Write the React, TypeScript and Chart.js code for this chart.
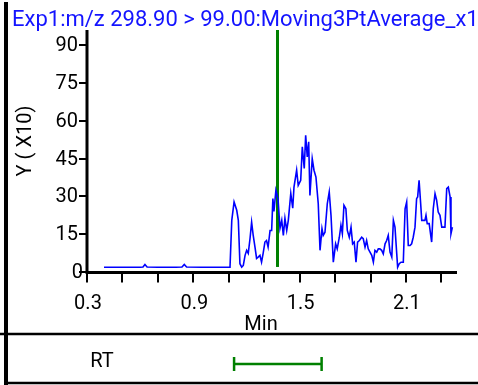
import React, { useEffect, useRef } from "react";
import { Chart, registerables } from "chart.js";

Chart.register(...registerables);

const titleText = "Exp1:m/z 298.90 > 99.00:Moving3PtAverage_x1";
const yAxisTitle = "Y ( X10)";
const xAxisTitle = "Min";
const rtLabel = "RT";

const yTickValues = [0, 15, 30, 45, 60, 75, 90];
const xMinorTicks = [0.3, 0.5, 0.7, 0.9, 1.1, 1.3, 1.5, 1.7, 1.9, 2.1, 2.3];
const xLabelTicks = [0.3, 0.9, 1.5, 2.1];

const markerTime = 1.375;
const markerBottom = 2.0;
const rtWindow = [1.13, 1.624];

const times = [
  0.396, 0.5, 0.6, 0.616, 0.627, 0.639, 0.7, 0.8, 0.836, 0.849, 0.862, 0.95, 1.05, 1.107,
  1.117, 1.13, 1.145, 1.154, 1.163, 1.173, 1.182, 1.192, 1.201, 1.21, 1.22, 1.229, 1.238,
  1.248, 1.257, 1.266, 1.276, 1.285, 1.294, 1.304, 1.313, 1.322, 1.333, 1.342, 1.349, 1.355,
  1.366, 1.378, 1.389, 1.399, 1.408, 1.417, 1.427, 1.436, 1.45, 1.461, 1.468, 1.483, 1.492,
  1.506, 1.515, 1.526, 1.534, 1.543, 1.551, 1.558, 1.571, 1.581, 1.592, 1.605, 1.615, 1.626,
  1.633, 1.643, 1.656, 1.667, 1.677, 1.69, 1.703, 1.712, 1.724, 1.733, 1.741, 1.75, 1.761,
  1.769, 1.78, 1.79, 1.799, 1.808, 1.818, 1.827, 1.837, 1.85, 1.859, 1.869, 1.878, 1.887,
  1.897, 1.907, 1.916, 1.925, 1.935, 1.944, 1.953, 1.963, 1.972, 1.982, 1.991, 2.0, 2.01,
  2.02, 2.029, 2.038, 2.048, 2.053, 2.062, 2.072, 2.085, 2.095, 2.104, 2.113, 2.123, 2.132,
  2.141, 2.151, 2.16, 2.166, 2.174, 2.183, 2.189, 2.198, 2.207, 2.213, 2.22, 2.231, 2.245,
  2.254, 2.264, 2.273, 2.282, 2.292, 2.302, 2.311, 2.32, 2.33, 2.339, 2.349, 2.354, 2.362,
];

const values = [
  1.9, 1.9, 1.9, 2.0, 3.0, 2.0, 1.9, 1.9, 2.0, 3.0, 2.0, 1.9, 1.9, 1.9,
  20.5, 27.8, 24.5, 20.5, 3.3, 1.9, 2.6, 6.6, 8.6, 7.4, 13.3, 19.8, 14.5,
  9.9, 5.4, 5.9, 6.6, 3.9, 7.4, 11.9, 12.5, 9.9, 16.5, 16.5, 29.2, 24,
  32.4, 29, 17.3, 20.5, 14.5, 21.3, 16.5, 20.5, 31.2, 25.3, 33.7, 40.4, 34.4,
  36.4, 49.7, 41.1, 54.3, 45.7, 51.7, 30.4, 45.0, 40.4, 37.7, 27.1, 8.6, 17.2,
  14.5, 15.8, 27.1, 31.8, 22.5, 3.9, 11.2, 9.2, 13.8, 18.5, 15.2, 26.5, 25.1,
  16.5, 13.8, 17.8, 11.2, 11.9, 3.9, 11.9, 12.5, 13.8, 13.2, 9.9, 12.5, 9.2,
  7.9, 6.6, 3.9, 8.6, 7.9, 9.2, 9.2, 8.6, 7.2, 11.2, 12.5, 14.5, 7.9,
  5.9, 20.5, 17.8, 7.2, 1.9, 3.3, 3.9, 3.9, 25.1, 27.8, 10.5, 10.5, 11.2,
  13.8, 17.8, 29.1, 29.8, 36.4, 27.1, 20.5, 20.5, 20.5, 22.5, 19.2, 19.2, 11.9,
  25.1, 31.1, 28.5, 23.8, 22.5, 17.8, 17.8, 17.8, 33.1, 33.7, 29.8, 15.2, 17.8,
];

const X_MIN = 0.3;
const X_MAX = 2.388;
const Y_MIN = 0;
const Y_MAX = 96.07;

const FONT = "Roboto, 'Liberation Sans', Arial, sans-serif";

const decorPlugin = {
  id: "decor",
  afterDraw(chart: any) {
    const ctx = chart.ctx as CanvasRenderingContext2D;
    const xs = chart.scales.x;
    const ys = chart.scales.y;
    const area = chart.chartArea;
    const W = chart.width;
    const H = chart.height;
    ctx.save();

    // frame lines
    ctx.strokeStyle = "#000";
    ctx.lineWidth = 4;
    ctx.beginPath();
    ctx.moveTo(6, 2);
    ctx.lineTo(6, H);
    ctx.stroke();
    ctx.lineWidth = 2.5;
    ctx.beginPath();
    ctx.moveTo(0, 334);
    ctx.lineTo(W, 334);
    ctx.moveTo(4, 383);
    ctx.lineTo(W, 383);
    ctx.stroke();

    // axes
    const x0 = area.left;
    const yBase = area.bottom + 0.5;
    ctx.lineWidth = 3;
    ctx.beginPath();
    ctx.moveTo(x0, area.top);
    ctx.lineTo(x0, yBase + 1.5);
    ctx.moveTo(x0 - 1.5, yBase);
    ctx.lineTo(area.right, yBase);
    ctx.stroke();

    // y ticks
    ctx.lineWidth = 2;
    ctx.font = `20px ${FONT}`;
    ctx.fillStyle = "#000";
    ctx.textAlign = "right";
    ctx.textBaseline = "middle";
    for (const v of yTickValues) {
      const py = Math.round(ys.getPixelForValue(v));
      ctx.beginPath();
      ctx.moveTo(x0 - 8, py);
      ctx.lineTo(x0, py);
      ctx.stroke();
      ctx.fillText(String(v), v === 0 ? x0 - 4 : x0 - 9, py + 1);
    }

    // x ticks
    for (const v of xMinorTicks) {
      const px = Math.round(xs.getPixelForValue(v));
      ctx.beginPath();
      ctx.moveTo(px, yBase);
      ctx.lineTo(px, yBase + 10);
      ctx.stroke();
    }
    ctx.textAlign = "center";
    ctx.textBaseline = "alphabetic";
    for (const v of xLabelTicks) {
      const px = xs.getPixelForValue(v);
      ctx.fillText(v.toFixed(1), px + 1, 309);
    }

    // axis titles
    ctx.fillText(xAxisTitle, 261, 330);
    ctx.save();
    ctx.translate(31, 141);
    ctx.rotate(-Math.PI / 2);
    ctx.textBaseline = "alphabetic";
    ctx.fillText(yAxisTitle, 0, 0);
    ctx.restore();

    // title
    ctx.textAlign = "left";
    ctx.fillStyle = "#1414ff";
    ctx.font = `22px ${FONT}`;
    ctx.fillText(titleText, 12, 26);

    // RT row
    ctx.font = `20px ${FONT}`;
    ctx.fillStyle = "#000";
    ctx.textAlign = "center";
    ctx.fillText(rtLabel, 102, 367);
    const r0 = xs.getPixelForValue(rtWindow[0]);
    const r1 = xs.getPixelForValue(rtWindow[1]);
    ctx.strokeStyle = "#008000";
    ctx.lineWidth = 2.5;
    ctx.beginPath();
    ctx.moveTo(r0, 364);
    ctx.lineTo(r1, 364);
    ctx.moveTo(r0, 357);
    ctx.lineTo(r0, 371);
    ctx.moveTo(r1, 357);
    ctx.lineTo(r1, 371);
    ctx.stroke();

    ctx.restore();
  },
};

export default function App() {
  const ref = useRef<HTMLCanvasElement | null>(null);

  useEffect(() => {
    document.body.style.margin = "0";
    const canvas = ref.current;
    if (!canvas) return;
    const chart = new Chart(canvas, {
      type: "line",
      data: {
        datasets: [
          {
            data: times.map((t, i) => ({ x: t, y: values[i] })),
            borderColor: "#0000ff",
            borderWidth: 1.6,
            pointRadius: 0,
            tension: 0,
            fill: false,
          },
          {
            data: [
              { x: markerTime, y: markerBottom },
              { x: markerTime, y: Y_MAX },
            ],
            borderColor: "#008000",
            borderWidth: 3,
            pointRadius: 0,
            fill: false,
          },
        ],
      },
      options: {
        responsive: false,
        animation: false,
        devicePixelRatio: 1,
        layout: { padding: { left: 87, right: 21, top: 30, bottom: 113 } },
        plugins: { legend: { display: false }, tooltip: { enabled: false }, title: { display: false } },
        scales: {
          x: { type: "linear", min: X_MIN, max: X_MAX, display: false },
          y: { type: "linear", min: Y_MIN, max: Y_MAX, display: false },
        },
      },
      plugins: [decorPlugin],
    });
    return () => chart.destroy();
  }, []);

  return <canvas ref={ref} width={478} height={385} style={{ display: "block" }} />;
}
